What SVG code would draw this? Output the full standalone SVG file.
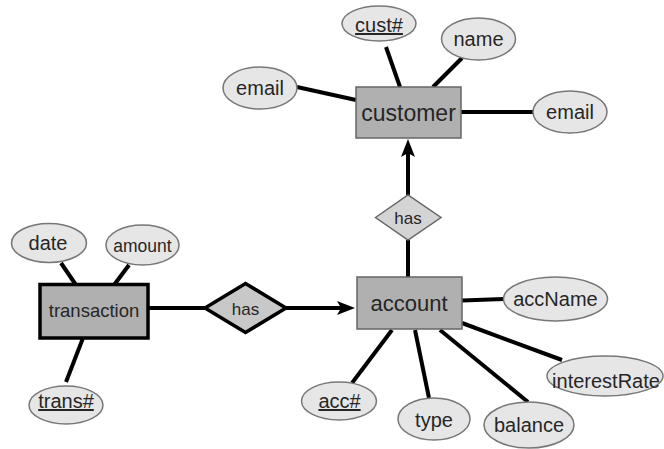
<svg xmlns="http://www.w3.org/2000/svg" width="664" height="449" viewBox="0 0 664 449">
<style>
text{font-family:"Liberation Sans",Arial,sans-serif;fill:#262626;text-anchor:middle}
.attr{fill:#e6e6e6;stroke:#777;stroke-width:1.5}
.ent{fill:#b0b0b0;stroke:#666;stroke-width:1.5}
.conn line{stroke:#000;stroke-width:4}
.a{font-size:20px}
.key{text-decoration:underline}
</style>
<defs>
<marker id="arr" markerUnits="userSpaceOnUse" markerWidth="20" markerHeight="16" viewBox="0 -8 20 16" refX="4" refY="0" orient="auto">
<path d="M0,-7 L18,0 L0,7 L4,0 Z" fill="#000"/>
</marker>
</defs>
<rect width="664" height="449" fill="#fff"/>
<g id="connectors" class="conn">
<line x1="386" y1="47" x2="400" y2="87"/>
<line x1="462" y1="58" x2="433" y2="87"/>
<line x1="297" y1="87" x2="356" y2="100"/>
<line x1="461" y1="112" x2="533" y2="112"/>
<line x1="408" y1="195" x2="408" y2="153" marker-end="url(#arr)"/>
<line x1="408" y1="240" x2="408" y2="277"/>
<line x1="462" y1="300.5" x2="504" y2="299"/>
<line x1="462" y1="323" x2="562" y2="360"/>
<line x1="440" y1="330" x2="528" y2="402"/>
<line x1="415" y1="330" x2="429" y2="398"/>
<line x1="392" y1="330" x2="352" y2="383"/>
<line x1="61" y1="263" x2="76" y2="285"/>
<line x1="129" y1="265" x2="114" y2="285"/>
<line x1="83" y1="338" x2="66" y2="382"/>
<line x1="148" y1="308" x2="205" y2="308"/>
<line x1="286" y1="308" x2="341" y2="308" marker-end="url(#arr)"/>
</g>
<g id="customer"><rect class="ent" x="356" y="87" width="105" height="51"/><text x="408.5" y="121" font-size="23">customer</text></g>
<g id="cust_no"><ellipse class="attr" cx="379" cy="23.5" rx="37" ry="17.5"/><text class="a key" x="379" y="32">cust#</text></g>
<g id="cust_name"><ellipse class="attr" cx="478.5" cy="39" rx="37" ry="21"/><text class="a" x="478.5" y="46">name</text></g>
<g id="cust_email1"><ellipse class="attr" cx="260" cy="88" rx="37" ry="21"/><text class="a" x="260" y="95">email</text></g>
<g id="cust_email2"><ellipse class="attr" cx="570" cy="112" rx="37" ry="21"/><text class="a" x="570" y="119">email</text></g>
<g id="has_upper"><polygon points="375.5,217.5 408,195 441,217.5 408,240" fill="#d4d4d4" stroke="#666" stroke-width="1.5"/><text x="408" y="223.5" font-size="17">has</text></g>
<g id="account"><rect class="ent" x="357" y="277" width="105" height="52"/><text x="409" y="310.5" font-size="22">account</text></g>
<g id="acc_name"><ellipse class="attr" cx="555.5" cy="299" rx="52" ry="22"/><text class="a" x="555.5" y="306">accName</text></g>
<g id="acc_rate"><ellipse class="attr" cx="605" cy="376" rx="58" ry="20"/><text class="a" x="606" y="388">interestRate</text></g>
<g id="acc_balance"><ellipse class="attr" cx="529" cy="425" rx="45" ry="23"/><text class="a" x="529" y="432">balance</text></g>
<g id="acc_type"><ellipse class="attr" cx="434" cy="419" rx="36" ry="21"/><text class="a" x="434" y="426.5">type</text></g>
<g id="acc_no"><ellipse class="attr" cx="339" cy="401" rx="37.5" ry="19"/><text class="a key" x="339.5" y="408">acc#</text></g>
<g id="has_lower"><polygon points="205,308 245.5,283.5 286,308 245.5,332.5" fill="#c8c8c8" stroke="#000" stroke-width="3.5"/><text x="245.5" y="315" font-size="17">has</text></g>
<g id="transaction"><rect x="40" y="284.5" width="108" height="53.5" fill="#b0b0b0" stroke="#000" stroke-width="3.5"/><text x="94" y="316.5" font-size="18.5">transaction</text></g>
<g id="tr_date"><ellipse class="attr" cx="49" cy="243" rx="37.5" ry="19.5"/><text class="a" x="48" y="250">date</text></g>
<g id="tr_amount"><ellipse class="attr" cx="142.5" cy="245" rx="36.5" ry="20"/><text x="142.5" y="251.5" font-size="17.5">amount</text></g>
<g id="tr_no"><ellipse class="attr" cx="66" cy="405" rx="37" ry="19"/><text class="a key" x="66" y="408">trans#</text></g>
</svg>
